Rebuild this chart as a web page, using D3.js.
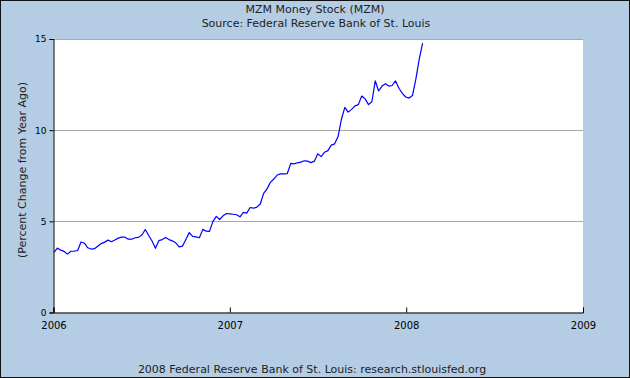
<!DOCTYPE html>
<html><head><meta charset="utf-8">
<script src="https://cdn.jsdelivr.net/npm/d3@7"></script>
<style>html,body{margin:0;padding:0;background:#b4cde4;}svg{display:block;}</style>
</head><body>
<svg id="c" width="630" height="378"></svg>
<script>
const title = "MZM Money Stock (MZM)";
const subtitle = "Source: Federal Reserve Bank of St. Louis";
const footer = "2008 Federal Reserve Bank of St. Louis: research.stlouisfed.org";
const yLabel = "(Percent Change from Year Ago)";
const startDate = "2006-01-02"; // first weekly observation
const yTicks = [0, 5, 10, 15];
const xTickYears = [2006, 2007, 2008, 2009];
const values = [
  3.30, 3.53, 3.42, 3.35, 3.20, 3.36, 3.36, 3.40, 3.87, 3.80,
  3.55, 3.48, 3.50, 3.65, 3.78, 3.86, 3.97, 3.88, 3.98, 4.08,
  4.13, 4.13, 4.02, 4.02, 4.10, 4.12, 4.25, 4.55, 4.22, 3.92,
  3.52, 3.94, 4.00, 4.12, 4.00, 3.93, 3.82, 3.60, 3.64, 4.00,
  4.38, 4.18, 4.15, 4.10, 4.56, 4.46, 4.45, 5.00, 5.27, 5.10,
  5.30, 5.43, 5.41, 5.39, 5.36, 5.25, 5.49, 5.45, 5.76, 5.72,
  5.78, 5.95, 6.53, 6.78, 7.14, 7.32, 7.54, 7.60, 7.60, 7.62,
  8.18, 8.15, 8.21, 8.25, 8.32, 8.30, 8.22, 8.30, 8.70, 8.55,
  8.79, 8.88, 9.18, 9.25, 9.65, 10.60, 11.25, 10.99, 11.14, 11.33,
  11.40, 11.87, 11.72, 11.40, 11.56, 12.70, 12.15, 12.42, 12.55, 12.42,
  12.45, 12.70, 12.30, 12.02, 11.82, 11.76, 11.90, 12.80, 13.90, 14.77
];

const parse = d3.utcParse("%Y-%m-%d");
const t0 = parse(startDate);
const data = values.map((v, i) => ({date: d3.utcDay.offset(t0, 7 * i), value: v}));

const svg = d3.select("#c");
const W = 630, H = 378;
const L = 53.5, R = 583, T = 39, B = 312.5;
const font = "DejaVu Sans, Verdana, sans-serif";

svg.append("rect").attr("x", 0.5).attr("y", 0.5).attr("width", W - 1).attr("height", H - 1)
  .attr("fill", "#b4cde4").attr("stroke", "#111").attr("stroke-width", 1);

const x = d3.scaleUtc().domain([new Date(Date.UTC(2006,0,1)), new Date(Date.UTC(2009,0,1))]).range([L, R]);
const y = d3.scaleLinear().domain([0, 15]).range([B, T]);

svg.append("rect").attr("x", L).attr("y", T).attr("width", R - L).attr("height", B - T).attr("fill", "#fff");

// gridlines
svg.append("g").selectAll("line").data(yTicks.filter(d => d > 0)).join("line")
  .attr("x1", L).attr("x2", R)
  .attr("y1", d => Math.round(y(d)) + 0.5).attr("y2", d => Math.round(y(d)) + 0.5)
  .attr("stroke", "#a8a8a8").attr("stroke-width", 1);

// line
const line = d3.line().x(d => x(d.date)).y(d => y(d.value));
svg.append("path").datum(data).attr("d", line).attr("fill", "none")
  .attr("stroke", "#0000ff").attr("stroke-width", 1.2).attr("stroke-linejoin", "round");

// y axis
const yAxis = d3.axisLeft(y).tickValues(yTicks).tickSize(4).tickPadding(3).tickFormat(d3.format("d"));
const gy = svg.append("g").attr("transform", `translate(${L},0)`).call(yAxis);
gy.select(".domain").attr("stroke", "#000");
gy.selectAll(".tick line").attr("stroke", "#000");
gy.selectAll(".tick text").attr("font-family", font).attr("font-size", 9).attr("fill", "#000");

// x axis (ticks pointing up inside)
const xAxis = d3.axisBottom(x).tickValues(xTickYears.map(yr => new Date(Date.UTC(yr,0,1))))
  .tickSize(-5).tickPadding(9).tickFormat(d3.utcFormat("%Y"));
const gx = svg.append("g").attr("transform", `translate(0,${B})`).call(xAxis);
gx.select(".domain").attr("stroke", "#000");
gx.selectAll(".tick line").attr("stroke", "#000");
gx.selectAll(".tick text").attr("font-family", font).attr("font-size", 10).attr("fill", "#000");

// titles
svg.append("text").attr("x", 315).attr("y", 13).attr("text-anchor", "middle")
  .attr("font-family", font).attr("font-size", 11).attr("fill", "#222").text(title);
svg.append("text").attr("x", 316).attr("y", 27).attr("text-anchor", "middle")
  .attr("font-family", font).attr("font-size", 11).attr("fill", "#222").text(subtitle);
svg.append("text").attr("x", 312).attr("y", 373).attr("text-anchor", "middle")
  .attr("font-family", font).attr("font-size", 11).attr("fill", "#222").text(footer);
svg.append("text").attr("transform", "translate(26,170) rotate(-90)").attr("text-anchor", "middle")
  .attr("font-family", font).attr("font-size", 11).attr("fill", "#222").text(yLabel);
</script>
</body></html>
